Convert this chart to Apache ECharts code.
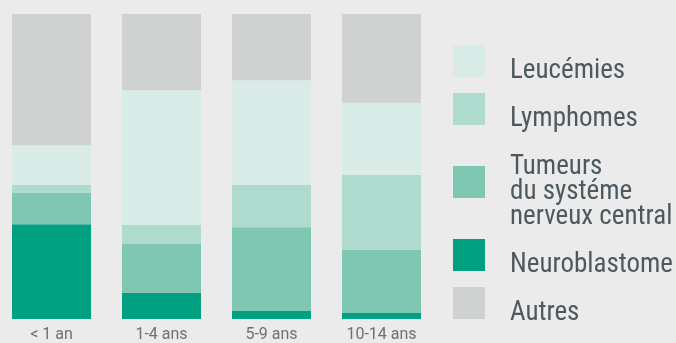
<!DOCTYPE html>
<html>
<head>
    <meta charset="utf-8">
    <title>ECharts</title>
    <script src="https://cdn.jsdelivr.net/npm/echarts@6/dist/echarts.min.js"></script>
    <style>
        html, body { margin: 0; padding: 0; background: #ebebeb; }
    </style>
</head>
<body>
    <div id="main" style="width: 676px;height:343px;"></div>
    <script>
        var myChart = echarts.init(document.getElementById("main"));

        // tranches d'age
        var categories = ['< 1 an', '1-4 ans', '5-9 ans', '10-14 ans'];
        // parts en %
        var neuroblastome = [31.1, 8.6, 2.6, 2.0];
        var tumeursSNC = [10.2, 16.1, 27.5, 20.7];
        var lymphomes = [2.6, 6.2, 13.8, 24.6];
        var leucemies = [13.1, 44.1, 34.4, 23.6];
        var autres = [43.0, 25.0, 21.7, 29.1];

        var legendOrder = ['Leucémies', 'Lymphomes', 'Tumeurs\ndu systéme\nnerveux central', 'Neuroblastome', 'Autres'];

        function bar(name, data, color) {
            return {
                name: name,
                type: 'bar',
                stack: 'total',
                barWidth: 79,
                data: data,
                itemStyle: { color: color },
                emphasis: { disabled: true }
            };
        }

        var legendFont = '"Liberation Sans Narrow", "Roboto Condensed", Roboto';

        var option = {
            backgroundColor: '#ebebeb',
            animation: false,
            grid: { left: -3.5, top: 14, width: 440, bottom: 24, outerBoundsMode: 'none' },
            xAxis: {
                type: 'category',
                data: categories,
                axisLine: { show: false },
                axisTick: { show: false },
                axisLabel: {
                    margin: 8,
                    color: '#6b7176',
                    fontFamily: 'Roboto',
                    fontSize: 16
                }
            },
            yAxis: { type: 'value', min: 0, max: 100, show: false },
            legend: {
                orient: 'vertical',
                left: 453,
                top: 43.5,
                padding: 0,
                itemGap: 7,
                itemWidth: 32,
                itemHeight: 32,
                icon: 'rect',
                selectedMode: false,
                data: legendOrder,
                // une ligne vide en tete pour descendre le texte sous le milieu du carre
                formatter: function (name) {
                    return '{s| }\n' + name.split('\n').map(function (l) {
                        return '{t|' + l + '}';
                    }).join('\n');
                },
                textStyle: {
                    color: '#4e595f',
                    fontFamily: legendFont,
                    fontSize: 27,
                    padding: [0, 0, 0, 20],
                    rich: {
                        s: { fontSize: 10, lineHeight: 20 },
                        t: { color: '#4e595f', fontFamily: legendFont, fontSize: 27, lineHeight: 25 }
                    }
                }
            },
            series: [
                bar('Neuroblastome', neuroblastome, '#00a081'),
                bar('Tumeurs\ndu systéme\nnerveux central', tumeursSNC, '#7fc6b3'),
                bar('Lymphomes', lymphomes, '#afdace'),
                bar('Leucémies', leucemies, '#daece7'),
                bar('Autres', autres, '#d0d1d1')
            ]
        };

        myChart.setOption(option);
    </script>
</body>
</html>
